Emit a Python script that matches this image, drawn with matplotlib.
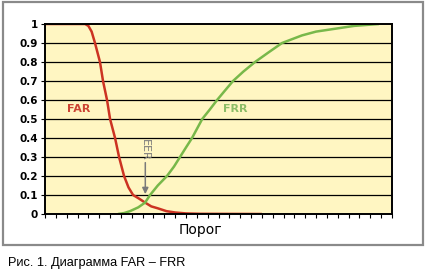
import matplotlib.pyplot as plt
from matplotlib.patches import Rectangle
import numpy as np

# FAR / FRR curves (threshold in tick units 0..32)
far_t = [0, 3.7, 4.0, 4.3, 4.61, 5.07, 5.35, 5.72, 6.0, 6.46, 6.83, 7.29, 7.7, 8.12, 8.7, 9.23, 9.8, 10.4, 11.2, 12.0, 13.0, 14.3, 20.0]
far_y = [1, 1, 0.99, 0.96, 0.9, 0.8, 0.7, 0.6, 0.5, 0.4, 0.3, 0.2, 0.14, 0.1, 0.08, 0.06, 0.04, 0.03, 0.015, 0.008, 0.003, 0.001, 0.0]

frr_t = [6.73, 7.3, 7.84, 8.6, 9.23, 9.69, 10.4, 11.25, 11.9, 12.45, 13.0, 13.56, 14.5, 15.2, 15.87, 16.6, 17.34, 18.3, 19.37, 20.6, 21.86, 23.7, 25.0, 26.75, 28.5, 30.8]
frr_y = [0.0, 0.005, 0.015, 0.035, 0.06, 0.1, 0.15, 0.2, 0.25, 0.3, 0.35, 0.4, 0.5, 0.55, 0.6, 0.65, 0.7, 0.75, 0.8, 0.85, 0.9, 0.94, 0.96, 0.975, 0.99, 1.0]

y_ticks = np.round(np.arange(0, 1.01, 0.1), 1)
y_labels = ["0", "0.1", "0.2", "0.3", "0.4", "0.5", "0.6", "0.7", "0.8", "0.9", "1"]
n_x_ticks = 32

BG = "#fff6c2"
RED = "#cc3322"
GREEN = "#78b84a"

fig = plt.figure(figsize=(4.25, 2.74), dpi=100)
fig.patch.set_facecolor("white")

# grey frame round the chart
fig.patches.append(Rectangle((3 / 425, 1 - 245 / 274), 420 / 425, 243 / 274,
                             transform=fig.transFigure, fill=False,
                             edgecolor="#8a8a8a", linewidth=1.6))

ax = fig.add_axes([45 / 425, 1 - 214 / 274, 347 / 425, 190 / 274])
ax.set_facecolor(BG)

for yv in y_ticks[1:-1]:
    ax.axhline(yv, color="black", linewidth=0.9, zorder=1)

ax.plot(far_t, far_y, color=RED, linewidth=1.8, zorder=3, solid_capstyle="butt")
ax.plot(frr_t, frr_y, color=GREEN, linewidth=1.8, zorder=3, solid_capstyle="butt")

ax.set_xlim(0, n_x_ticks)
ax.set_ylim(0, 1)
ax.set_xticks(np.arange(0, n_x_ticks + 1))
ax.set_xticklabels([])
ax.set_yticks(y_ticks)
ax.set_yticklabels(y_labels, fontsize=7.5, fontweight="bold")
ax.tick_params(axis="x", direction="out", length=3, width=0.8)
ax.tick_params(axis="y", direction="out", length=3, width=0.8, pad=2)
for s in ax.spines.values():
    s.set_linewidth(1.4)
    s.set_zorder(4)

ax.text(3.1, 0.555, "FAR", color="#cc4433", fontsize=8, fontweight="bold",
        ha="center", va="center")
ax.text(17.5, 0.555, "FRR", color="#8cbd68", fontsize=8, fontweight="bold",
        ha="center", va="center")

# EER mark
ax.text(9.25, 0.34, "EER", color="#7a7a7a", fontsize=8, rotation=-90,
        ha="center", va="center")
ax.annotate("", xy=(9.25, 0.09), xytext=(9.25, 0.285),
            arrowprops=dict(arrowstyle="-|>", color="#7a7a7a", lw=1.1,
                            mutation_scale=9))

fig.text(200 / 425, 1 - 230 / 274, "Порог", fontsize=10, ha="center", va="center")
fig.text(8 / 425, 1 - 263 / 274, "Рис. 1. Диаграмма FAR – FRR", fontsize=9.2,
         ha="left", va="center", family=["Liberation Sans", "DejaVu Sans"])

fig.savefig("out.png", dpi=100)
